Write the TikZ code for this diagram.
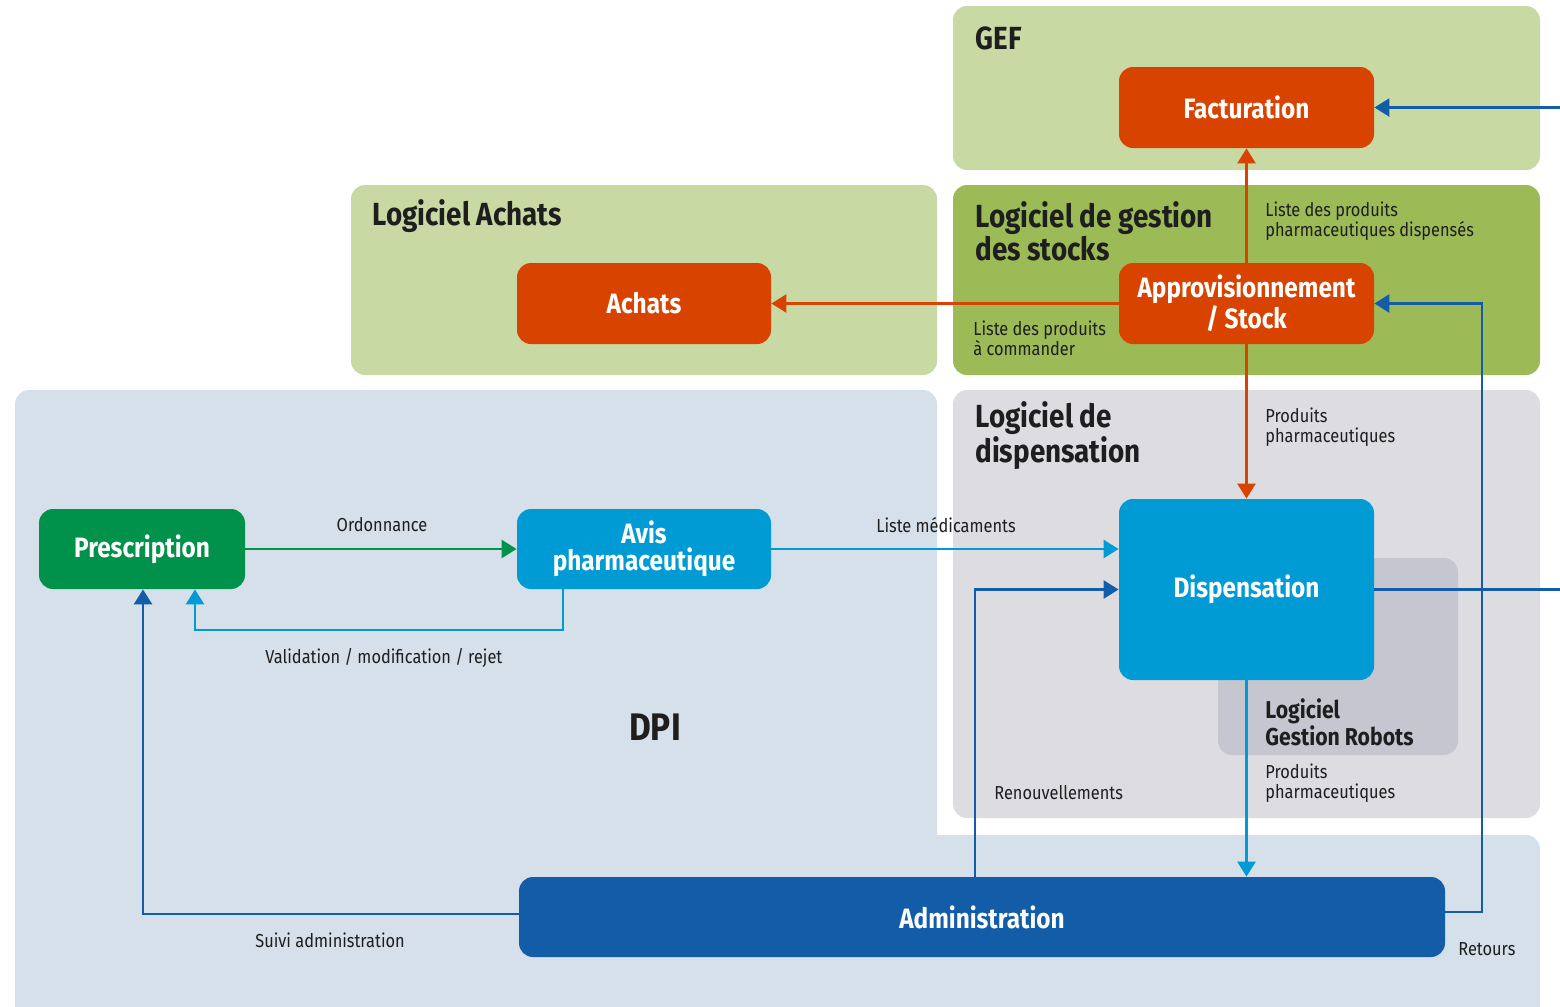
\documentclass[tikz,border=0pt]{standalone}
\usepackage{fontspec}
\setmainfont{Fira Sans}[FakeStretch=0.87]
\usetikzlibrary{arrows.meta}
\definecolor{cOrange}{RGB}{217,67,0}
\definecolor{cGreen}{RGB}{0,146,74}
\definecolor{cLight}{RGB}{0,155,213}
\definecolor{cDark}{RGB}{18,92,168}
\definecolor{bgGef}{RGB}{200,217,164}
\definecolor{bgStock}{RGB}{156,187,87}
\definecolor{bgDpi}{RGB}{214,224,234}
\definecolor{bgDisp}{RGB}{221,221,225}
\definecolor{bgRobot}{RGB}{197,198,208}
\definecolor{txt}{RGB}{30,30,30}
\tikzset{
  area/.style={rounded corners=7pt},
  procbox/.style={rounded corners=7pt, text=white, align=center, inner sep=0pt,
    font=\fontsize{14}{13.5}\selectfont\bfseries},
  title/.style={anchor=west, align=left, inner sep=0pt, text=txt,
    font=\fontsize{16}{15.5}\selectfont\bfseries},
  lbl/.style={anchor=west, align=left, inner sep=0pt, text=txt,
    font=\fontsize{9.4}{10}\selectfont},
  conn/.style={line width=1.3pt, -{Triangle[length=7.5pt,width=9pt]}},
  plain/.style={line width=1.3pt},
}
\begin{document}
\begin{tikzpicture}[x=0.5pt,y=-0.5pt]
\useasboundingbox (0,0) rectangle (1560,1007);
\clip (0,0) rectangle (1560,1007);
% background areas
\fill[bgGef, area] (953,6) rectangle (1540,170);
\fill[bgStock, area] (953,185) rectangle (1540,375);
\fill[bgGef, area] (351,185) rectangle (937,375);
\fill[bgDpi, area] (15,390) rectangle (937,1030);
\fill[bgDpi, area] (15,835) rectangle (1540,1030);
\fill[bgDisp, area] (953,390) rectangle (1540,818);
\fill[bgRobot, area] (1218,558) rectangle (1458,755);
% titles
\node[title] (tGef) at (975,38) {GEF};
\node[title] (tAch) at (372,216) {Logiciel Achats};
\node[title] (tStk) at (975,231) {Logiciel de gestion\\des stocks};
\node[title] (tDsp) at (975,436) {Logiciel de\\dispensation};
\node[title, font=\fontsize{12.2}{12}\selectfont\bfseries] (tRob) at (1265,722) {Logiciel\\Gestion Robots};
\node[title, anchor=center, font=\fontsize{19.2}{20}\selectfont\bfseries] (tDpi) at (655,727) {DPI};
% process boxes
\node[procbox, fill=cOrange, minimum width=127.5pt, minimum height=40.5pt] (fact) at (1246.5,107.5) {Facturation};
\node[procbox, fill=cOrange, minimum width=127.5pt, minimum height=40.5pt] (appro) at (1246.5,303.5) {Approvisionnement\\/ Stock};
\node[procbox, fill=cOrange, minimum width=127pt, minimum height=40.5pt] (achats) at (644,303.5) {Achats};
\node[procbox, fill=cGreen, minimum width=103pt, minimum height=40pt] (presc) at (142,549) {Prescription};
\node[procbox, fill=cLight, minimum width=127pt, minimum height=40pt] (avis) at (644,549) {Avis\\pharmaceutique};
\node[procbox, fill=cLight, minimum width=127.5pt, minimum height=90.5pt] (disp) at (1246.5,589.5) {Dispensation};
\node[procbox, fill=cDark, minimum width=463pt, minimum height=40pt] (admin) at (982,917) {Administration};
% helper coordinates
\coordinate (fe) at (1560,107.5);
\coordinate (de) at (1560,589.5);
\coordinate (va) at (563,630);
\coordinate (vb) at (195,630);
\coordinate (rn) at (975,589.5);
\coordinate (sa) at (143,914);
\coordinate (ra) at (1482,912);
\coordinate (rb) at (1482,303.5);
% connectors
\draw[conn, cOrange] (appro.north) -- (fact.south);
\draw[conn, cOrange] (appro.west) -- (achats.east);
\draw[conn, cOrange] (appro.south) -- (disp.north);
\draw[conn, cDark] (fe) -- (fact.east);
\draw[plain, cDark] (disp.east) -- (de);
\draw[conn, cGreen] (presc.east) -- (avis.west);
\draw[conn, cLight] (avis.south -| va) -- (va) -- (vb) -- (presc.south -| vb);
\draw[conn, cLight] (avis.east) -- (avis.east -| disp.west);
\draw[conn, cDark] (admin.north -| rn) -- (rn) -- (disp.west);
\draw[conn, cLight] (disp.south) -- (disp.south |- admin.north);
\draw[conn, cDark] (admin.west |- sa) -- (sa) -- (presc.south -| sa);
\draw[conn, cDark] (admin.east |- ra) -- (ra) -- (rb) -- (appro.east);
% labels
\node[lbl, anchor=center] (lOrd) at (382,525) {Ordonnance};
\node[lbl, anchor=center] (lLm) at (946,525) {Liste médicaments};
\node[lbl] (lVal) at (265,658) {Validation / modification / rejet};
\node[lbl] (lSui) at (255,940) {Suivi administration};
\node[lbl] (lRen) at (994,793) {Renouvellements};
\node[lbl] (lPp1) at (1265,427) {Produits\\pharmaceutiques};
\node[lbl] (lPp2) at (1265,783) {Produits\\pharmaceutiques};
\node[lbl] (lRet) at (1458,949) {Retours};
\node[lbl] (lLpd) at (1265,221) {Liste des produits\\pharmaceutiques dispensés};
\node[lbl] (lLpc) at (973,338) {Liste des produits\\à commander};
\end{tikzpicture}
\end{document}
